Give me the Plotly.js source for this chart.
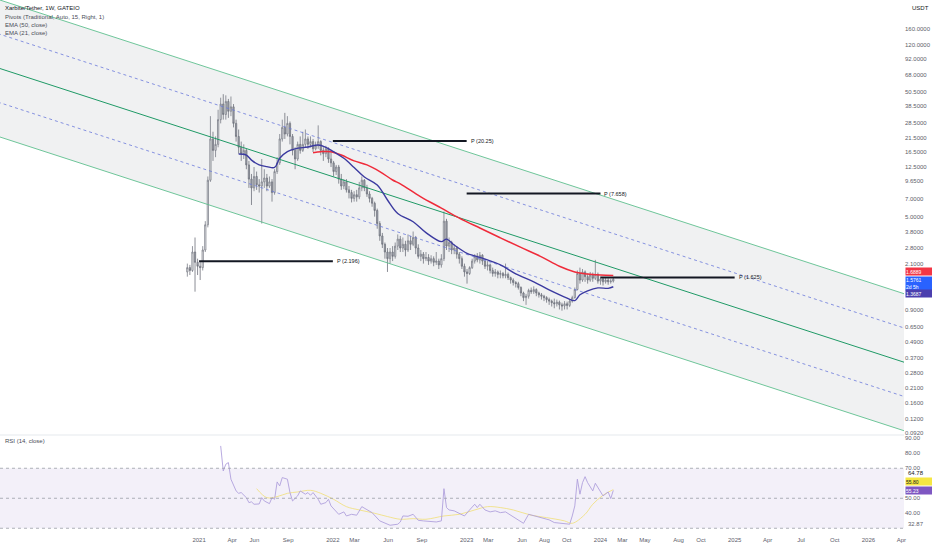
<!DOCTYPE html>
<html>
<head>
<meta charset="utf-8">
<script src="https://cdn.plot.ly/plotly-3.0.1.min.js"></script>
<style>
  html, body { margin: 0; padding: 0; background: #fff; }
  #chart { width: 932px; height: 550px; }
</style>
</head>
<body>
<div id="chart"></div>
<script>
// weekly candles, first bar on the week of 2020-11-30
const candleOpen = [
  1.80, 1.95, 1.85, 2.60, 2.15, 2.00, 1.95, 2.70, 4.30, 9.80,
  21.0, 17.0, 19.0, 30, 40, 33, 42, 35, 38, 28,
  22, 18, 16, 17, 13, 10, 8.5, 10.5, 9, 8.8,
  9.5, 10.2, 8.8, 9.5, 7.8, 11.5, 13.5, 21, 26, 23,
  28, 22, 17, 14.5, 19, 17, 19, 21, 19, 20,
  17.5, 18.5, 20, 17, 16, 17.5, 14.5, 13.5, 11.5, 12.5,
  10, 8.8, 9.5, 8.2, 7.8, 7.0, 7.5, 7.2, 8.5, 9.8,
  8.5, 7.6, 7.0, 6.4, 5.6, 4.4, 3.5, 3.0, 2.6, 2.3,
  2.6, 2.4, 2.9, 3.3, 2.8, 3.0, 2.7, 3.2, 3.0, 3.4,
  2.8, 2.4, 2.5, 2.3, 2.35, 2.2, 2.3, 2.15, 2.2, 2.05,
  2.3, 4.6, 2.9, 3.1, 2.7, 2.8, 2.5, 2.3, 2.0, 1.80,
  1.75, 1.95, 2.2, 2.4, 2.25, 2.45, 2.2, 2.0, 2.05, 1.85,
  1.75, 1.8, 1.72, 1.75, 1.68, 1.72, 1.62, 1.55, 1.48, 1.45,
  1.35, 1.22, 1.12, 1.15, 1.28, 1.25, 1.30, 1.22, 1.18, 1.15,
  1.12, 1.08, 1.05, 1.02, 1.00, 1.03, 0.98, 0.96, 1.00, 0.97,
  1.05, 1.12, 1.30, 1.75, 1.55, 1.80, 1.65, 1.55, 1.70, 1.60,
  1.72, 1.52, 1.58, 1.50, 1.55, 1.50, 1.52
];
const candleHigh = [
  2.10, 2.05, 2.90, 3.40, 2.30, 2.20, 2.90, 4.60, 10.5, 32,
  24, 22, 36, 45, 48, 47, 44, 46, 40, 30,
  25, 20, 19, 17.5, 14, 11, 12.5, 11.5, 10, 14.5,
  12, 11, 10.5, 10, 12, 15, 23, 30, 34, 32,
  29, 23, 18, 20, 22, 24, 25, 22, 22, 21,
  20, 27, 20.5, 18, 18.5, 18, 17, 14, 13, 13,
  11, 10, 10, 8.8, 8.2, 8.0, 8.2, 9.5, 10.5, 10,
  9, 8, 7.2, 6.6, 5.8, 4.6, 3.7, 3.1, 2.8, 2.8,
  2.9, 3.1, 3.6, 3.5, 3.4, 3.2, 3.6, 3.5, 3.8, 3.5,
  3.0, 2.7, 2.6, 2.6, 2.5, 2.45, 2.4, 2.6, 2.3, 2.5,
  5.5, 4.8, 3.4, 3.2, 3.0, 2.9, 2.6, 2.4, 2.1, 1.9,
  2.0, 2.3, 2.5, 2.55, 2.6, 2.5, 2.3, 2.2, 2.1, 1.95,
  1.9, 1.85, 1.85, 1.8, 2.1, 1.78, 1.65, 1.6, 1.52, 1.5,
  1.38, 1.25, 1.2, 1.32, 1.35, 1.38, 1.33, 1.25, 1.22, 1.18,
  1.15, 1.12, 1.08, 1.1, 1.08, 1.06, 1.02, 1.05, 1.04, 1.08,
  1.16, 1.35, 1.85, 1.95, 1.9, 1.85, 1.75, 1.8, 1.78, 2.25,
  1.78, 1.65, 1.62, 1.62, 1.60, 1.58, 1.62
];
const candleLow = [
  1.65, 1.70, 1.80, 1.25, 1.70, 1.55, 1.85, 2.60, 4.10, 9.5,
  14, 15, 18, 28, 30, 30, 31, 32, 26, 20,
  16, 14, 14.5, 12, 8.5, 6.2, 8.0, 8.2, 7.8, 4.4,
  8.5, 8.0, 8.5, 6.6, 7.5, 11, 13, 20, 21, 22,
  19, 15.5, 12, 14, 16, 16.5, 18, 17.5, 18, 16.5,
  17, 17.5, 15.5, 14, 15, 13.5, 12.5, 10.5, 10.8, 9.2,
  8.2, 8.3, 7.8, 7.0, 6.5, 6.6, 6.6, 6.9, 8.0, 8,
  7.2, 6.5, 6.0, 5.0, 4.0, 3.2, 2.8, 2.3, 1.8, 2.1,
  2.2, 2.3, 2.7, 2.6, 2.6, 2.4, 2.6, 2.7, 2.9, 2.5,
  2.3, 2.2, 2.1, 2.2, 2.05, 2.1, 2.0, 2.05, 1.9, 1.95,
  2.2, 2.7, 2.6, 2.5, 2.5, 2.3, 2.1, 1.9, 1.65, 1.45,
  1.7, 1.9, 2.1, 2.15, 2.1, 2.05, 1.9, 1.85, 1.75, 1.65,
  1.65, 1.6, 1.6, 1.6, 1.6, 1.55, 1.45, 1.4, 1.35, 1.3,
  1.15, 1.05, 0.98, 1.1, 1.2, 1.2, 1.15, 1.12, 1.08, 1.05,
  1.02, 0.98, 0.95, 0.92, 0.95, 0.9, 0.88, 0.90, 0.90, 0.94,
  1.02, 1.1, 1.28, 1.45, 1.5, 1.5, 1.45, 1.5, 1.5, 1.55,
  1.45, 1.42, 1.4, 1.45, 1.42, 1.45, 1.48
];
const candleClose = [
  1.95, 1.85, 2.60, 2.15, 2.00, 1.95, 2.70, 4.30, 9.80, 21.0,
  17.0, 19.0, 30, 40, 33, 42, 35, 38, 28, 22,
  18, 16, 17, 13, 10, 8.5, 10.5, 9, 8.8, 9.5,
  10.2, 8.8, 9.5, 7.8, 11.5, 13.5, 21, 26, 23, 28,
  22, 17, 14.5, 19, 17, 19, 21, 19, 20, 17.5,
  18.5, 20, 17, 16, 17.5, 14.5, 13.5, 11.5, 12.5, 10,
  8.8, 9.5, 8.2, 7.8, 7.0, 7.5, 7.2, 8.5, 9.8, 8.5,
  7.6, 7.0, 6.4, 5.6, 4.4, 3.5, 3.0, 2.6, 2.3, 2.6,
  2.4, 2.9, 3.3, 2.8, 3.0, 2.7, 3.2, 3.0, 3.4, 2.8,
  2.4, 2.5, 2.3, 2.35, 2.2, 2.3, 2.15, 2.2, 2.05, 2.3,
  4.6, 2.9, 3.1, 2.7, 2.8, 2.5, 2.3, 2.0, 1.80, 1.75,
  1.95, 2.2, 2.4, 2.25, 2.45, 2.2, 2.0, 2.05, 1.85, 1.75,
  1.8, 1.72, 1.75, 1.68, 1.72, 1.62, 1.55, 1.48, 1.45, 1.35,
  1.22, 1.12, 1.15, 1.28, 1.25, 1.30, 1.22, 1.18, 1.15, 1.12,
  1.08, 1.05, 1.02, 1.00, 1.03, 0.98, 0.96, 1.00, 0.97, 1.05,
  1.12, 1.30, 1.75, 1.55, 1.80, 1.65, 1.55, 1.70, 1.60, 1.72,
  1.52, 1.58, 1.50, 1.55, 1.50, 1.52, 1.5761
];

// EMA lines (bar index, value)
const ema21Idx = [20, 23, 25, 28, 31, 34, 36, 39, 42, 47, 51, 54, 57, 61, 65, 69, 74, 78, 82, 88, 93, 99, 101, 104, 109, 112, 116, 122, 128, 135, 141, 148, 151, 153, 156, 160, 164, 166];
const ema21Val = [15.9, 15.6, 14.2, 13.0, 12.6, 12.4, 14.7, 16.6, 17.5, 18.1, 18.8, 18.0, 16.6, 14.7, 12.4, 10.4, 8.97, 6.80, 5.3, 4.55, 3.72, 3.15, 3.3, 2.96, 2.54, 2.42, 2.28, 2.05, 1.74, 1.50, 1.29, 1.11, 1.06, 1.18, 1.27, 1.34, 1.33, 1.3687];
const ema50Idx = [49, 52, 56, 60, 65, 70, 75, 80, 83, 91, 99, 106, 114, 122, 130, 138, 145, 151, 156, 161, 166];
const ema50Val = [16.3, 16.6, 16.6, 15.6, 14.0, 13.0, 11.5, 9.84, 9.15, 7.2, 5.85, 4.87, 4.05, 3.38, 2.83, 2.38, 2.0, 1.80, 1.73, 1.70, 1.6889];

// RSI (14) and its moving average
const rsiIdx = [13, 14, 15, 16, 17, 19, 20, 21, 23, 24, 25, 26, 28, 29, 30, 32, 33, 34, 35, 36, 37, 39, 40, 41, 43, 44, 46, 47, 48, 49, 51, 52, 54, 55, 56, 58, 59, 61, 62, 64, 66, 68, 70, 72, 75, 77, 79, 82, 83, 84, 86, 88, 90, 92, 95, 97, 99, 100, 101, 102, 104, 106, 108, 110, 112, 113, 114, 116, 118, 120, 122, 124, 126, 128, 131, 133, 136, 138, 141, 143, 146, 148, 149, 150, 151, 152, 153, 154, 155, 156, 158, 159, 161, 162, 164, 165, 166];
const rsiVal = [84.9, 68.2, 72.7, 73.8, 62.7, 54.9, 53.3, 53.8, 50.4, 47.1, 47.6, 46.0, 46.2, 50.4, 48.2, 46.4, 50.4, 49.3, 60.9, 58.2, 63.8, 62.7, 53.8, 48.2, 51.6, 54.9, 52.7, 53.8, 52.0, 53.8, 49.3, 46.0, 47.1, 49.3, 44.9, 41.6, 39.3, 40.9, 38.2, 39.3, 38.7, 44.4, 42.2, 40.4, 34.9, 33.3, 32.0, 32.7, 34.2, 38.2, 38.0, 39.3, 35.3, 34.9, 34.2, 34.2, 34.9, 56.4, 43.8, 42.2, 41.6, 40.0, 38.2, 42.2, 46.0, 43.8, 46.0, 42.2, 40.9, 41.6, 40.4, 40.9, 38.7, 36.4, 33.3, 39.3, 37.8, 37.1, 35.6, 33.8, 33.3, 33.3, 32.7, 38.2, 44.9, 62.7, 52.7, 60.4, 64.4, 60.4, 54.9, 60.0, 53.8, 51.6, 54.2, 49.8, 55.23];
const rsiMaIdx = [27, 31, 35, 39, 43, 48, 52, 57, 62, 67, 73, 78, 83, 88, 93, 100, 106, 112, 117, 122, 127, 134, 140, 147, 150, 155, 158, 162, 166];
const rsiMaVal = [56.4, 50.4, 51.1, 53.3, 54.2, 55.3, 53.3, 49.3, 44.4, 42.2, 40.0, 37.8, 36.0, 36.4, 36.0, 38.2, 39.3, 42.2, 44.4, 43.8, 42.2, 38.7, 37.1, 34.9, 33.3, 39.3, 46.0, 52.0, 55.8];
const rsiLevels = [70, 50, 30];

// parallel channel drawing, two anchor dates
const channelDates = ['2019-06-01', '2026-08-01'];
const channelTop = [296.5, 0.935];
const channelUpperQ = [157.5, 0.4967];
const channelMid = [83.66, 0.2638];
const channelLowerQ = [44.44, 0.1401];
const channelBottom = [23.61, 0.0744];

// yearly pivots
const pivotStarts = ['2021-01-01', '2022-01-01', '2023-01-01', '2024-01-01'];
const pivotEnds = ['2022-01-01', '2023-01-01', '2024-01-01', '2025-01-01'];
const pivotVals = [2.196, 20.25, 7.658, 1.625];
const pivotLabels = ['P (2.196)', 'P (20.25)', 'P (7.658)', 'P (1.625)'];

const priceTicks = [160, 120, 92, 68, 50.5, 38.5, 28.5, 21.5, 16.5, 12.5, 9.65, 7, 5, 3.8, 2.8, 2.1, 0.9, 0.65, 0.49, 0.37, 0.28, 0.21, 0.16, 0.12, 0.092];
const rsiTicks = [40, 50, 70, 80, 90];
const dateTicks = ['2021-01-01', '2021-04-01', '2021-06-01', '2021-09-01', '2022-01-01', '2022-03-01', '2022-06-01', '2022-09-01',
  '2023-01-01', '2023-03-01', '2023-06-01', '2023-08-01', '2023-10-01', '2024-01-01', '2024-03-01', '2024-05-01', '2024-08-01',
  '2024-10-01', '2025-01-01', '2025-04-01', '2025-07-01', '2025-10-01', '2026-01-01', '2026-04-01'];
const dateLabels = ['2021', 'Apr', 'Jun', 'Sep', '2022', 'Mar', 'Jun', 'Sep', '2023', 'Mar', 'Jun', 'Aug', 'Oct', '2024',
  'Mar', 'May', 'Aug', 'Oct', '2025', 'Apr', 'Jul', 'Oct', '2026', 'Apr'];

function weekDate(i) {
    const d = new Date(Date.UTC(2020, 10, 30) + i * 7 * 86400000);
    return d.toISOString().slice(0, 10);
}

const candleDates = candleClose.map((c, i) => weekDate(i));

const pivotX = [];
const pivotY = [];
pivotStarts.forEach((s, i) => {
    pivotX.push(s, pivotEnds[i], null);
    pivotY.push(pivotVals[i], pivotVals[i], null);
});

const green = '#5fbf8f';
const dashBlue = '#6a78da';

const traces = [
    { x: channelDates, y: channelBottom, type: 'scatter', mode: 'lines', line: { color: green, width: 0.9 } },
    { x: channelDates, y: channelTop, type: 'scatter', mode: 'lines', line: { color: green, width: 0.9 },
      fill: 'tonexty', fillcolor: 'rgba(120,123,134,0.11)' },
    { x: channelDates, y: channelMid, type: 'scatter', mode: 'lines', line: { color: '#1f9a66', width: 1 } },
    { x: channelDates, y: channelUpperQ, type: 'scatter', mode: 'lines', line: { color: dashBlue, width: 0.8, dash: '3px,3px' } },
    { x: channelDates, y: channelLowerQ, type: 'scatter', mode: 'lines', line: { color: dashBlue, width: 0.8, dash: '3px,3px' } },
    { x: pivotX, y: pivotY, type: 'scatter', mode: 'lines', line: { color: '#131722', width: 2 } },
    {
        type: 'candlestick',
        x: candleDates,
        open: candleOpen,
        high: candleHigh,
        low: candleLow,
        close: candleClose,
        whiskerwidth: 0,
        increasing: { line: { color: '#7b7e88', width: 0.8 }, fillcolor: '#ffffff' },
        decreasing: { line: { color: '#6e717b', width: 0.8 }, fillcolor: '#a9acb5' }
    },
    { x: ema50Idx.map(weekDate), y: ema50Val, type: 'scatter', mode: 'lines', line: { color: '#ef2b3a', width: 1.5, shape: 'spline' } },
    { x: ema21Idx.map(weekDate), y: ema21Val, type: 'scatter', mode: 'lines', line: { color: '#3b3aa0', width: 1.4, shape: 'spline' } },
    { x: rsiMaIdx.map(weekDate), y: rsiMaVal, type: 'scatter', mode: 'lines', yaxis: 'y2',
      line: { color: 'rgba(240,222,110,0.75)', width: 1, shape: 'spline' } },
    { x: rsiIdx.map(weekDate), y: rsiVal, type: 'scatter', mode: 'lines', yaxis: 'y2',
      line: { color: '#b0a0dd', width: 0.9 } }
];

const smallFont = { family: 'Liberation Sans, Arial, sans-serif', size: 6, color: '#5d606b' };

const annotations = [];
const header = ['Xarbite/Tether, 1W, GATEIO', 'Pivots (Traditional, Auto, 15, Right, 1)', 'EMA (50, close)', 'EMA (21, close)'];
const headerY = [0.9856, 0.968, 0.9527, 0.9389];
header.forEach((t, i) => {
    annotations.push({ xref: 'paper', yref: 'paper', x: 0.003, y: headerY[i], xanchor: 'left', yanchor: 'middle',
        text: t, showarrow: false, font: { family: smallFont.family, size: 6, color: i === 0 ? '#131722' : '#4a4d57' } });
});
annotations.push({ xref: 'paper', yref: 'paper', x: 0.003, y: 0.1757, xanchor: 'left', yanchor: 'middle',
    text: 'RSI (14, close)', showarrow: false, font: { family: smallFont.family, size: 6, color: '#4a4d57' } });
annotations.push({ xref: 'paper', yref: 'paper', x: 1, y: 0.985, xanchor: 'left', yanchor: 'middle', xshift: 6,
    text: 'USDT', showarrow: false, font: { family: smallFont.family, size: 6, color: '#131722' } });

pivotLabels.forEach((t, i) => {
    annotations.push({ x: pivotEnds[i], y: Math.log10(pivotVals[i]), xref: 'x', yref: 'y', xanchor: 'left', yanchor: 'middle',
        xshift: 2, text: t, showarrow: false, font: { family: smallFont.family, size: 5.5, color: '#131722' } });
});

// last-value boxes on the price scales, shifted apart like the reference
function priceBox(value, text, bg, color, shift, axis, h) {
    annotations.push({ xref: 'paper', yref: axis, x: 1, xanchor: 'left', yanchor: 'middle', xshift: 1, yshift: shift,
        y: axis === 'y' ? Math.log10(value) : value, text: text, showarrow: false, bgcolor: bg, borderpad: 0,
        width: 26, height: h, align: 'left', valign: 'middle',
        font: { family: smallFont.family, size: 5, color: color } });
}
priceBox(ema50Val[ema50Val.length - 1], '1.6889', '#f23645', '#ffffff', 3.4, 'y', 7);
priceBox(candleClose[candleClose.length - 1], '1.5761<br>2d 5h', '#2962ff', '#ffffff', -4.3, 'y', 13);
priceBox(ema21Val[ema21Val.length - 1], '1.3687', '#4b3fae', '#ffffff', -7.2, 'y', 7);
priceBox(rsiMaVal[rsiMaVal.length - 1], '55.80', '#f5e642', '#131722', 8, 'y2', 7);
priceBox(rsiVal[rsiVal.length - 1], '55.23', '#7e57c2', '#ffffff', 0, 'y2', 7);
annotations.push({ xref: 'paper', yref: 'y2', x: 1, y: 64.78, xanchor: 'left', yanchor: 'middle', xshift: 2, yshift: 3,
    text: '64.78', showarrow: false, font: { family: smallFont.family, size: 6, color: '#131722' } });
annotations.push({ xref: 'paper', yref: 'y2', x: 1, y: 32.87, xanchor: 'left', yanchor: 'middle', xshift: 2,
    text: '32.87', showarrow: false, font: { family: smallFont.family, size: 6, color: '#5d606b' } });

const shapes = [
    { type: 'rect', xref: 'paper', yref: 'y2', x0: 0, x1: 1, y0: rsiLevels[2], y1: rsiLevels[0],
      fillcolor: 'rgba(126,87,194,0.09)', line: { width: 0 }, layer: 'below' },
    { type: 'rect', xref: 'paper', yref: 'paper', x0: 0, x1: 1, y0: 0.1855, y1: 0.1885,
      fillcolor: '#eef0f3', line: { width: 0 } }
];
rsiLevels.forEach(v => {
    shapes.push({ type: 'line', xref: 'paper', yref: 'y2', x0: 0, x1: 1, y0: v, y1: v,
        line: { color: '#9a9da6', width: 0.8, dash: 'dot' } });
});

const layout = {
    width: 932,
    height: 550,
    margin: { l: 0, r: 28, t: 0, b: 15 },
    paper_bgcolor: '#ffffff',
    plot_bgcolor: '#ffffff',
    showlegend: false,
    hovermode: false,
    font: smallFont,
    xaxis: {
        type: 'date', anchor: 'y2', range: ['2019-07-08', '2026-04-08'],
        tickvals: dateTicks, ticktext: dateLabels, tickfont: smallFont,
        showgrid: false, zeroline: false, showline: false, ticks: '',
        rangeslider: { visible: false }, fixedrange: true
    },
    yaxis: {
        type: 'log', domain: [0.189, 1], anchor: 'x', side: 'right',
        range: [-1.044, 2.437],
        tickvals: priceTicks, ticktext: priceTicks.map(v => v.toFixed(4)), tickfont: smallFont,
        showgrid: false, zeroline: false, showline: false, ticks: '', fixedrange: true
    },
    yaxis2: {
        domain: [0, 0.185], anchor: 'x', side: 'right', range: [25.5, 91.5],
        tickvals: rsiTicks, ticktext: rsiTicks.map(v => v.toFixed(2)), tickfont: smallFont,
        showgrid: false, zeroline: false, showline: false, ticks: '', fixedrange: true
    },
    shapes: shapes,
    annotations: annotations
};

Plotly.newPlot('chart', traces, layout, { displayModeBar: false, staticPlot: true });
</script>
</body>
</html>
